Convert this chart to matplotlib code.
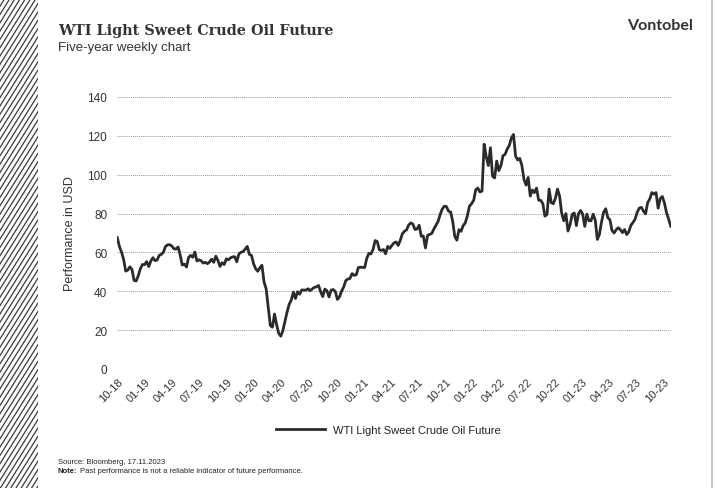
import matplotlib
matplotlib.use("Agg")
import matplotlib.pyplot as plt
import matplotlib.dates as mdates
import pandas as pd
import numpy as np

# ---- data (weekly closes, USD) ----
start_date = "2018-10-26"
prices_2018 = [67.6, 63.1, 60.2, 56.5, 50.4, 50.9, 52.6, 51.2, 45.6, 45.3]
prices_2019 = [48.0, 51.6, 53.8, 53.7, 55.3, 52.7, 55.6, 57.3, 55.8, 56.1, 58.5, 59.0, 60.1,
               63.1, 63.9, 64.0, 63.3, 61.9, 61.7, 62.8, 58.6, 53.5, 54.0, 52.5, 57.4, 58.5,
               57.5, 60.2, 55.6, 56.2, 55.7, 54.5, 54.9, 54.2, 55.1, 56.5, 54.9, 58.1, 55.9,
               52.8, 54.7, 53.8, 56.7, 56.2, 57.2, 57.7, 57.8, 55.2, 59.2, 60.1, 60.4, 61.7]
prices_2020 = [63.1, 59.0, 58.5, 54.2, 51.6, 50.3, 52.1, 53.4, 44.8, 41.3, 31.7, 22.4, 21.5,
               28.3, 22.8, 18.3, 16.9, 19.8, 24.7, 29.4, 33.3, 35.5, 39.6, 36.3, 39.8, 38.5,
               40.7, 40.6, 40.6, 41.3, 40.3, 41.2, 42.0, 42.3, 43.0, 39.8, 37.3, 41.1, 40.3,
               37.1, 40.6, 40.9, 39.9, 35.8, 37.1, 40.1, 42.2, 45.5, 46.3, 46.6, 49.1, 48.2]
prices_2021 = [48.5, 52.2, 52.4, 52.3, 52.2, 56.9, 59.5, 59.2, 61.5, 66.1, 65.6, 61.4, 61.0,
               61.5, 59.3, 63.1, 62.1, 63.6, 64.9, 65.4, 63.6, 66.3, 69.6, 70.9, 71.6, 74.1,
               75.2, 74.6, 71.8, 72.1, 74.0, 68.3, 68.4, 62.3, 68.7, 69.3, 69.7, 72.0, 74.0,
               75.9, 79.4, 82.3, 83.8, 83.6, 81.3, 80.8, 76.1, 68.2, 66.3, 71.7, 70.9, 73.8, 75.2]
prices_2022 = [78.9, 83.8, 85.1, 86.8, 92.3, 93.1, 91.1, 91.6, 115.7, 109.3, 104.7, 113.9,
               99.3, 98.3, 107.0, 102.1, 104.7, 109.8, 110.5, 113.2, 115.1, 118.9, 120.7,
               109.6, 107.6, 108.4, 104.8, 97.6, 94.7, 98.6, 89.0, 92.1, 90.8, 93.1, 86.9,
               86.8, 85.1, 78.7, 79.5, 92.6, 85.6, 85.1, 87.9, 92.6, 89.0, 80.1, 76.3, 80.0,
               71.0, 74.3, 79.6, 80.3]
prices_2023 = [73.8, 79.9, 81.6, 79.7, 73.4, 79.7, 76.3, 76.3, 79.7, 76.7, 66.7, 69.3, 75.7,
               80.7, 82.5, 77.9, 76.8, 71.3, 70.0, 71.7, 72.7, 71.7, 70.2, 71.8, 69.2, 70.6,
               73.9, 75.4, 77.1, 80.6, 82.8, 83.2, 81.3, 79.8, 85.6, 87.5, 90.8, 90.0, 90.8,
               82.8, 87.7, 88.8, 85.5, 80.5, 77.2, 73.5]
tick_labels = ["10-18", "01-19", "04-19", "07-19", "10-19", "01-20", "04-20", "07-20",
               "10-20", "01-21", "04-21", "07-21", "10-21", "01-22", "04-22", "07-22",
               "10-22", "01-23", "04-23", "07-23", "10-23"]
y_ticks = [0, 20, 40, 60, 80, 100, 120, 140]
series_name = "WTI Light Sweet Crude Oil Future"

values = prices_2018 + prices_2019 + prices_2020 + prices_2021 + prices_2022 + prices_2023
dates = pd.date_range(start_date, periods=len(values), freq="W-FRI")
tick_dates = [pd.Timestamp(start_date) + pd.DateOffset(months=3 * i) for i in range(len(tick_labels))]

W, H = 715, 489
fig = plt.figure(figsize=(W / 100, H / 100), dpi=100)
fig.patch.set_facecolor("white")

TXT = "#333333"
SANS = ["Liberation Sans", "DejaVu Sans"]

# hatched strip on the left
hax = fig.add_axes([0, 0, 38 / W, 1])
hax.set_xlim(0, 38)
hax.set_ylim(0, H)
hax.axis("off")
for x0 in np.arange(-400, 40, 5.2):
    hax.plot([x0, x0 + H / 1.6], [0, H], color="#3a3a3a", lw=0.9, clip_on=True)

# right border line
fig.add_artist(plt.Line2D([711.5 / W, 711.5 / W], [0, 1], color="#bbbbbb", lw=1.2,
                          transform=fig.transFigure))

# main axes
ax = fig.add_axes([117 / W, 1 - 370 / H, (671 - 117) / W, (370 - 98) / H])
ax.plot(dates, values, color="#2b2b2b", lw=2.0, solid_joinstyle="round")
ax.set_ylim(0, 140)
ax.set_xlim(pd.Timestamp(start_date) - pd.Timedelta(days=1), dates[-1] + pd.Timedelta(days=1))
ax.set_yticks(y_ticks)
ax.set_yticklabels([str(v) for v in y_ticks], family=SANS, fontsize=8.5, color=TXT)
ax.set_xticks(tick_dates)
ax.set_xticklabels(tick_labels, rotation=45, ha="right", rotation_mode="anchor",
                   family=SANS, fontsize=8, color=TXT)
ax.tick_params(axis="both", length=0)
ax.tick_params(axis="y", pad=7)
ax.tick_params(axis="x", pad=5)
for s in ax.spines.values():
    s.set_visible(False)
ax.grid(axis="y", color="#999999", lw=0.7, linestyle=(0, (1, 1)))
ax.set_axisbelow(True)
ax.set_ylabel("Performance in USD", family=SANS, fontsize=9, color=TXT)
ax.yaxis.set_label_coords(-(117 - 76) / (671 - 117), 0.5)

# titles
fig.text(58 / W, 1 - 35 / H, "WTI Light Sweet Crude Oil Future", family=["DejaVu Serif"],
         fontweight="bold", fontsize=10.4, color=TXT, va="baseline")
fig.text(58 / W, 1 - 51 / H, "Five-year weekly chart", family=SANS, fontsize=9.5,
         color=TXT, va="baseline")
fig.text(693 / W, 1 - 30 / H, "Vontobel", family=["Lato", "DejaVu Sans"], fontweight="bold",
         fontsize=11.5, color=TXT, va="baseline", ha="right")

# legend
fig.add_artist(plt.Line2D([276 / W, 325 / W], [1 - 430 / H, 1 - 430 / H], color="#2b2b2b",
                          lw=2.0, transform=fig.transFigure))
fig.text(333 / W, 1 - 434 / H, series_name, family=SANS, fontsize=8, color="#222222",
         va="baseline")

# footnotes
fig.text(58 / W, 1 - 464 / H, "Source: Bloomberg, 17.11.2023", family=SANS, fontsize=5.5,
         color="#222222", va="baseline")
note = fig.text(58 / W, 1 - 473 / H, "Note:", family=SANS, fontsize=5.5, fontweight="bold",
                color="#222222", va="baseline")
renderer = fig.canvas.get_renderer()
bb = note.get_window_extent(renderer=renderer)
fig.text((bb.x1 + 2) / W, 1 - 473 / H,
         "Past performance is not a reliable indicator of future performance.",
         family=SANS, fontsize=5.5, color="#222222", va="baseline")

fig.savefig("out.png", dpi=100, facecolor="white")
